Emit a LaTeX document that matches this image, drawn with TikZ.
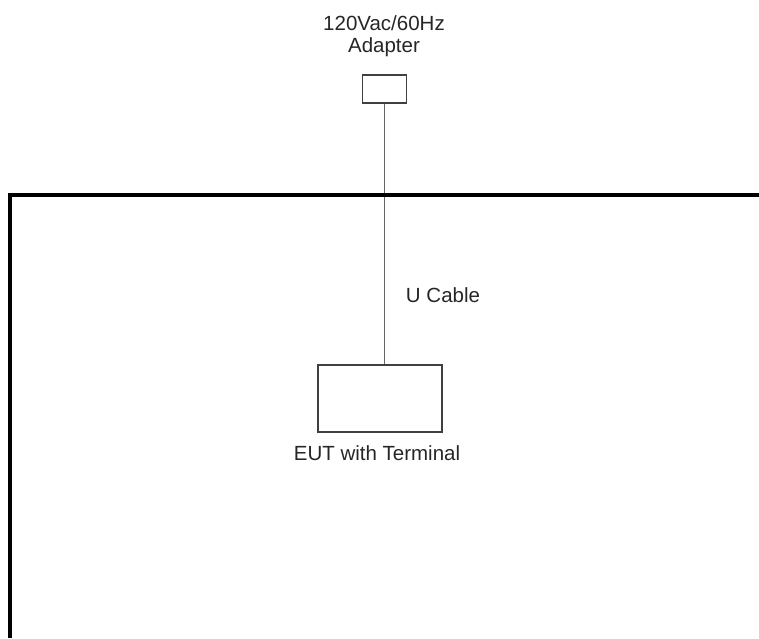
\documentclass[tikz,border=0pt]{standalone}
\usepackage{fontspec}
\setmainfont{Liberation Sans}
\begin{document}
\begin{tikzpicture}[x=1pt,y=-1pt,
  box/.style={draw=black!75,line width=1.5pt,inner sep=0pt},
  lbl/.style={font=\fontsize{20.5}{22}\selectfont,text=black!85,inner sep=0pt},
  cable/.style={draw=black!60,line width=1.8pt},
  wall/.style={draw=black,line width=4.5pt,line join=miter}]
\useasboundingbox (0,0) rectangle (759,638);
\node[box,minimum width=44pt,minimum height=28pt] (adapter) at (384.5,89) {};
\node[lbl,anchor=base] (adlbl1) at (384,30) {120Vac/60Hz};
\node[lbl,anchor=base] (adlbl2) at (384,52) {Adapter};
\node[box,minimum width=124pt,minimum height=67pt] (eut) at (380,398.5) {};
\node[lbl,anchor=base] (eutlbl) at (377,460) {EUT with Terminal};
\node[lbl,anchor=base] (ulbl) at (443,302) {U Cable};
\draw[cable] (adapter.south) -- (adapter.south |- eut.north);
\coordinate (wtop) at (759,195);
\coordinate (wcorner) at (10,195);
\coordinate (wbot) at (10,638);
\draw[wall] (wtop) -- (wcorner) -- (wbot);
\end{tikzpicture}
\end{document}
